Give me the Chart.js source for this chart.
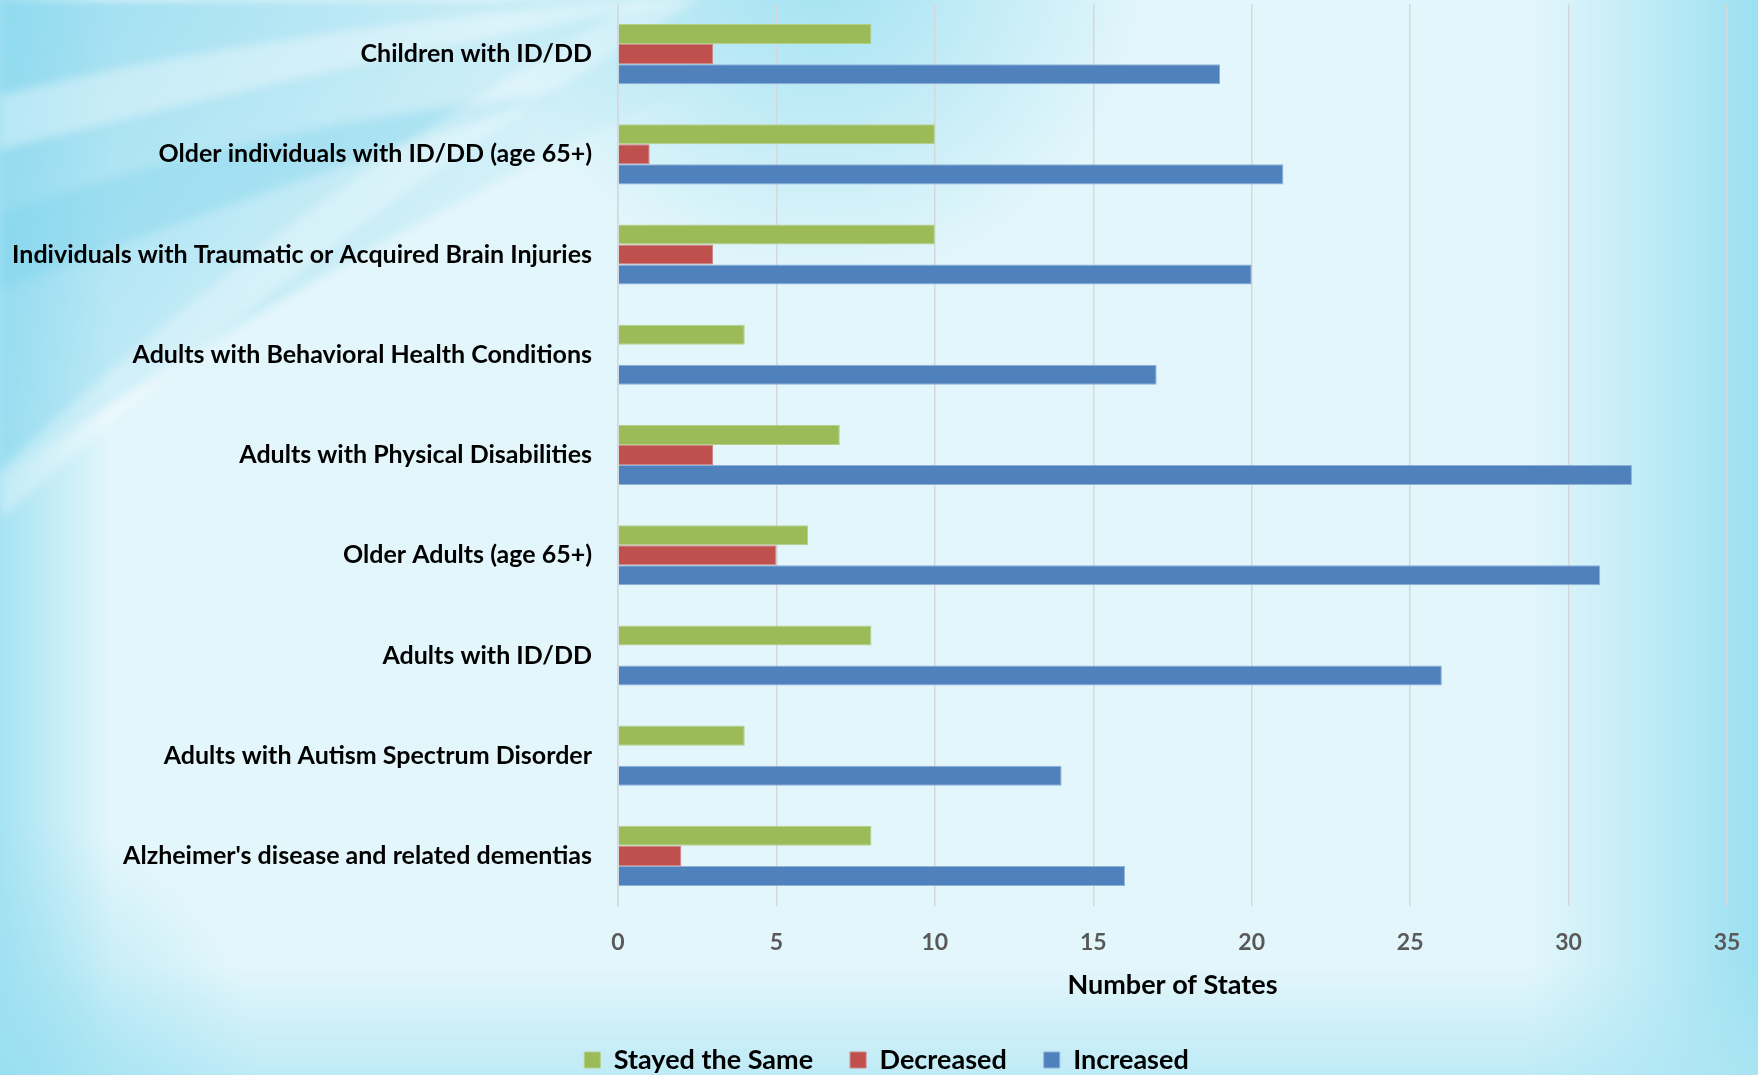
<!DOCTYPE html>
<html>
<head>
<meta charset="utf-8">
<script src="https://cdn.jsdelivr.net/npm/chart.js"></script>
<style>
  html, body { margin: 0; padding: 0; }
  body { width: 1758px; height: 1075px; overflow: hidden; }
</style>
</head>
<body>
<canvas id="myChart" width="1758" height="1075"></canvas>
<script>
const categories = [
  'Children with ID/DD',
  'Older individuals with ID/DD (age 65+)',
  'Individuals with Traumatic or Acquired Brain Injuries',
  'Adults with Behavioral Health Conditions',
  'Adults with Physical Disabilities',
  'Older Adults (age 65+)',
  'Adults with ID/DD',
  'Adults with Autism Spectrum Disorder',
  "Alzheimer's disease and related dementias"
];
const stayedSame = [8, 10, 10, 4, 7, 6, 8, 4, 8];
const decreased  = [3, 1, 3, 0, 3, 5, 0, 0, 2];
const increased  = [19, 21, 20, 17, 32, 31, 26, 14, 16];
const xTicks = [0, 5, 10, 15, 20, 25, 30, 35];

const FONT = 'Lato, "Open Sans", sans-serif';

// soft cyan backdrop with swooshes in the top-left corner
const bgPlugin = {
  id: 'bg',
  beforeInit(chart) {
    // shrink the legend box so its items sit near the bottom edge
    const lg = chart.legend;
    const fit = lg.fit;
    lg.fit = function () { fit.call(this); this.height = 65.5; };
  },
  afterLayout(chart) {
    // legend is centred a little right of the canvas middle
    chart.legend.left += 46;
  },
  beforeDraw(chart) {
    const c = chart.ctx, w = chart.width, h = chart.height;
    c.save();
    c.fillStyle = '#e3f6fb';
    c.fillRect(0, 0, w, h);

    let g = c.createLinearGradient(w - 230, 0, w, 0);
    g.addColorStop(0, 'rgba(160,226,242,0)');
    g.addColorStop(1, 'rgba(155,224,241,1)');
    c.fillStyle = g; c.fillRect(w - 230, 0, 230, h);

    g = c.createLinearGradient(0, 0, 110, 0);
    g.addColorStop(0, 'rgba(160,225,242,0.9)');
    g.addColorStop(1, 'rgba(160,225,242,0)');
    c.fillStyle = g; c.fillRect(0, 0, 110, h);

    g = c.createLinearGradient(0, h - 110, 0, h);
    g.addColorStop(0, 'rgba(175,230,244,0)');
    g.addColorStop(1, 'rgba(175,230,244,0.7)');
    c.fillStyle = g; c.fillRect(0, h - 110, w, 110);

    g = c.createRadialGradient(820, -40, 20, 820, -40, 330);
    g.addColorStop(0, 'rgba(150,222,240,0.8)');
    g.addColorStop(1, 'rgba(150,222,240,0)');
    c.fillStyle = g; c.fillRect(400, 0, 900, 320);

    c.filter = 'blur(5px)';
    // big cyan wing
    g = c.createLinearGradient(0, 0, 520, 380);
    g.addColorStop(0, 'rgba(140,216,238,0.85)');
    g.addColorStop(1, 'rgba(140,216,238,0)');
    c.fillStyle = g;
    c.beginPath();
    c.moveTo(0, 0); c.lineTo(880, 0);
    c.bezierCurveTo(600, 120, 250, 300, 0, 480);
    c.closePath(); c.fill();
    // light band near the top
    c.fillStyle = 'rgba(255,255,255,0.35)';
    c.beginPath();
    c.moveTo(0, 95);
    c.bezierCurveTo(180, 50, 400, 20, 620, 0);
    c.lineTo(700, 0);
    c.bezierCurveTo(450, 40, 200, 100, 0, 150);
    c.closePath(); c.fill();
    // darker band
    c.fillStyle = 'rgba(120,208,234,0.35)';
    c.beginPath();
    c.moveTo(0, 215);
    c.bezierCurveTo(180, 150, 380, 110, 560, 95);
    c.bezierCurveTo(380, 150, 180, 220, 0, 290);
    c.closePath(); c.fill();
    // light diagonal streak
    c.fillStyle = 'rgba(255,255,255,0.3)';
    c.beginPath();
    c.moveTo(0, 470);
    c.bezierCurveTo(150, 330, 350, 160, 640, 0);
    c.lineTo(700, 0);
    c.bezierCurveTo(400, 180, 180, 360, 0, 520);
    c.closePath(); c.fill();
    c.filter = 'none';

    g = c.createRadialGradient(0, h, 10, 0, h, 260);
    g.addColorStop(0, 'rgba(150,222,240,0.8)');
    g.addColorStop(1, 'rgba(150,222,240,0)');
    c.fillStyle = g; c.fillRect(0, h - 260, 260, 260);
    c.restore();
  }
};

new Chart(document.getElementById('myChart'), {
  type: 'bar',
  data: {
    labels: categories,
    datasets: [
      { label: 'Stayed the Same', data: stayedSame, backgroundColor: '#9bbb59', borderColor: '#b6d08c', borderWidth: 1 },
      { label: 'Decreased', data: decreased, backgroundColor: '#c0504d', borderColor: '#cf8583', borderWidth: 1 },
      { label: 'Increased', data: increased, backgroundColor: '#4f81bd', borderColor: '#8eb0d9', borderWidth: 1 }
    ]
  },
  options: {
    indexAxis: 'y',
    responsive: false,
    animation: false,
    layout: { padding: { left: 0, top: 4, right: 31, bottom: 0 } },
    datasets: { bar: { categoryPercentage: 0.6, barPercentage: 1 } },
    scales: {
      x: {
        min: 0, max: 35,
        afterBuildTicks: s => { s.ticks = xTicks.map(v => ({ value: v })); },
        afterFit: s => { s.height = 103.5; s.paddingLeft = 0; s.paddingRight = 0; },
        grid: { color: '#d5d8da', lineWidth: 1.5, drawTicks: false },
        border: { display: false },
        ticks: { color: '#595959', padding: 23, font: { family: FONT, size: 23, weight: 'bold' } },
        title: { display: true, text: 'Number of States', color: '#000', padding: { top: 0, bottom: 8.5 },
                 font: { family: FONT, size: 27, weight: 'bold' } }
      },
      y: {
        afterFit: s => { s.width = 618; s.paddingTop = 0; s.paddingBottom = 0; },
        grid: { display: false, drawTicks: false },
        border: { display: true, color: '#d5d8da', width: 1.5 },
        ticks: { color: '#000', padding: 26, font: { family: FONT, size: 25, weight: 'bold' } }
      }
    },
    plugins: {
      legend: {
        position: 'bottom',
        labels: { color: '#000', boxWidth: 16, boxHeight: 16, padding: 37,
                  font: { family: FONT, size: 27, weight: 'bold' } }
      },
      tooltip: { enabled: false }
    }
  },
  plugins: [bgPlugin]
});
</script>
</body>
</html>
